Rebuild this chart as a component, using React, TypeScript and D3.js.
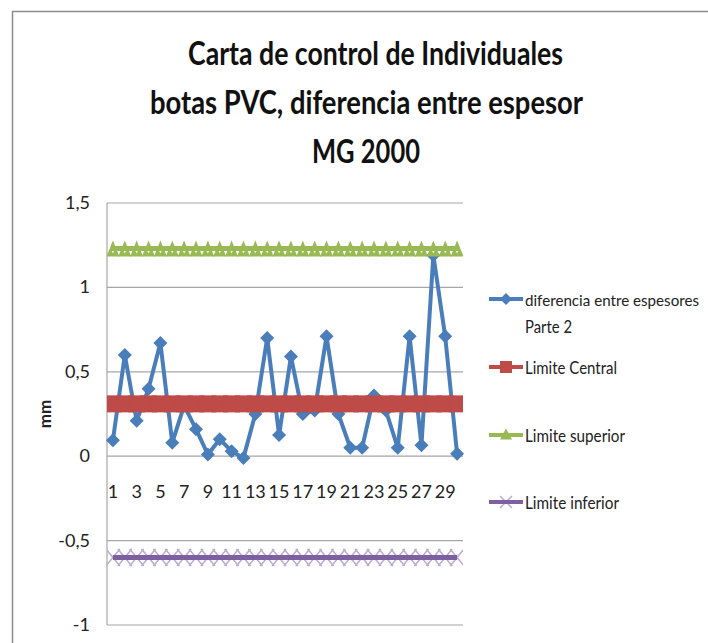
import React from "react";
import * as d3 from "d3";

const categories = [1,2,3,4,5,6,7,8,9,10,11,12,13,14,15,16,17,18,19,20,21,22,23,24,25,26,27,28,29,30];
const diferencia = [0.095,0.60,0.21,0.40,0.67,0.08,0.30,0.16,0.01,0.10,0.03,-0.01,0.25,0.70,0.125,0.59,0.25,0.27,0.71,0.25,0.05,0.05,0.36,0.27,0.05,0.71,0.065,1.19,0.71,0.015];
const limiteCentral = [0.31,0.31,0.31,0.31,0.31,0.31,0.31,0.31,0.31,0.31,0.31,0.31,0.31,0.31,0.31,0.31,0.31,0.31,0.31,0.31,0.31,0.31,0.31,0.31,0.31,0.31,0.31,0.31,0.31,0.31];
const limiteSuperior = [1.23,1.23,1.23,1.23,1.23,1.23,1.23,1.23,1.23,1.23,1.23,1.23,1.23,1.23,1.23,1.23,1.23,1.23,1.23,1.23,1.23,1.23,1.23,1.23,1.23,1.23,1.23,1.23,1.23,1.23];
const limiteInferior = [-0.6,-0.6,-0.6,-0.6,-0.6,-0.6,-0.6,-0.6,-0.6,-0.6,-0.6,-0.6,-0.6,-0.6,-0.6,-0.6,-0.6,-0.6,-0.6,-0.6,-0.6,-0.6,-0.6,-0.6,-0.6,-0.6,-0.6,-0.6,-0.6,-0.6];
const yTicks = [1.5, 1, 0.5, 0, -0.5, -1];
const xTickLabels = [1,3,5,7,9,11,13,15,17,19,21,23,25,27,29];
const titleLines = ["Carta de control de Individuales", "botas PVC, diferencia entre espesor", "MG 2000"];
const legendLabels = ["diferencia entre espesores", "Parte 2", "Limite Central", "Limite superior", "Limite inferior"];

const BLUE = "#4a7ebb";
const RED = "#be4b48";
const GREEN = "#98b954";
const PURPLE = "#7d60a0";
const LAVENDER = "#b9acd0";
const FONT = "Lato, 'Open Sans', sans-serif";

export default function App() {
  const left = 107, right = 463, top = 203, bottom = 625;
  const x = d3.scaleBand<number>().domain(categories).range([left, right]);
  const cx = (c: number) => (x(c) as number) + x.bandwidth() / 2;
  const y = d3.scaleLinear().domain([-1, 1.5]).range([bottom, top]);
  const line = d3.line<number>().x((_, i) => cx(categories[i])).y((v) => y(v));

  const fmt = (v: number) => String(v).replace(".", ",");

  const diamond = (px: number, py: number, r: number) =>
    `M${px},${py - r}L${px + r},${py}L${px},${py + r}L${px - r},${py}Z`;
  const tri = (px: number, py: number, w: number, h: number) =>
    `M${px},${py - h / 2}L${px + w / 2},${py + h / 2}L${px - w / 2},${py + h / 2}Z`;

  const titleX = [188, 150, 312];
  const titleW = [375, 433, 108];
  const titleY = [65, 114, 163];

  return (
    <svg width={708} height={643} style={{ position: "absolute", left: 0, top: 0, background: "#fff" }} fontFamily={FONT}>
      <defs>
        <clipPath id="plotClip">
          <rect x={left} y={top - 10} width={right - left} height={bottom - top + 20} />
        </clipPath>
      </defs>
      {/* frame */}
      <path d={`M12.5,643V11.5H708`} fill="none" stroke="#8c8c8c" strokeWidth={1.5} />

      {/* title */}
      {titleLines.map((t, i) => (
        <text key={i} x={titleX[i]} y={titleY[i]} fontSize={33} fontWeight={700} fill="#111"
          textLength={titleW[i]} lengthAdjust="spacingAndGlyphs">{t}</text>
      ))}

      {/* gridlines */}
      {yTicks.map((t) => (
        <line key={t} x1={left} x2={right} y1={y(t)} y2={y(t)} stroke="#a6a6a6" strokeWidth={1.2} />
      ))}
      <line x1={left} x2={left} y1={top} y2={bottom} stroke="#a6a6a6" strokeWidth={1.2} />

      {/* y tick labels */}
      {yTicks.map((t) => (
        <text key={t} x={90} y={y(t) + 6} fontSize={18} textAnchor="end" fill="#222">{fmt(t)}</text>
      ))}
      {/* x tick labels */}
      {xTickLabels.map((c) => (
        <text key={c} x={cx(c)} y={498} fontSize={18} textAnchor="middle" fill="#222">{c}</text>
      ))}
      {/* y axis title */}
      <text transform="translate(51,414) rotate(-90)" fontSize={17} fontWeight={700} textAnchor="middle" fill="#222">mm</text>

      {/* data series */}
      <path d={line(diferencia) || ""} fill="none" stroke={BLUE} strokeWidth={4} strokeLinejoin="round" />
      {diferencia.map((v, i) => (
        <path key={i} d={diamond(cx(categories[i]), y(v), 7)} fill={BLUE} />
      ))}

      <g clipPath="url(#plotClip)">
        <path d={line(limiteCentral) || ""} fill="none" stroke={RED} strokeWidth={5} />
        {limiteCentral.map((v, i) => (
          <rect key={i} x={cx(categories[i]) - 8.5} y={y(v) - 8.5} width={17} height={17} fill={RED} />
        ))}

        <path d={line(limiteSuperior) || ""} fill="none" stroke={GREEN} strokeWidth={5} />
        {limiteSuperior.map((v, i) => (
          <path key={i} d={tri(cx(categories[i]), y(v), 13, 16)} fill={GREEN} />
        ))}
        {limiteSuperior.map((v, i) => (
          <path key={"w" + i} d={`M${cx(categories[i]) - 1.3},${y(v) + 2.5}L${cx(categories[i]) + 1.3},${y(v) + 2.5}L${cx(categories[i])},${y(v) + 5}Z`} fill="#fff" opacity={0.85} />
        ))}

        {limiteInferior.map((v, i) => {
          const px = cx(categories[i]);
          const py = y(v);
          return (
            <path key={i} d={`M${px - 7},${py - 8.5}L${px + 7},${py + 8.5}M${px + 7},${py - 8.5}L${px - 7},${py + 8.5}`}
              stroke={LAVENDER} strokeWidth={1.5} fill="none" />
          );
        })}
        <path d={line(limiteInferior) || ""} fill="none" stroke={PURPLE} strokeWidth={5} />
      </g>

      {/* legend */}
      <g>
        <line x1={489} x2={523} y1={299} y2={299} stroke={BLUE} strokeWidth={4} />
        <path d={diamond(506, 299, 6)} fill={BLUE} />
        <text x={525} y={306} fontSize={16} fill="#222" textLength={174} lengthAdjust="spacingAndGlyphs">{legendLabels[0]}</text>
        <text x={525} y={333} fontSize={17} fill="#222" textLength={47} lengthAdjust="spacingAndGlyphs">{legendLabels[1]}</text>

        <line x1={489} x2={523} y1={367} y2={367} stroke={RED} strokeWidth={4} />
        <rect x={500} y={361} width={12} height={12} fill={RED} />
        <text x={525} y={374} fontSize={17} fill="#222" textLength={92} lengthAdjust="spacingAndGlyphs">{legendLabels[2]}</text>

        <line x1={489} x2={523} y1={435} y2={435} stroke={GREEN} strokeWidth={4} />
        <path d={tri(506, 434, 12, 11)} fill={GREEN} />
        <text x={525} y={442} fontSize={17} fill="#222" textLength={100} lengthAdjust="spacingAndGlyphs">{legendLabels[3]}</text>

        <path d={`M500,496L512,508M512,496L500,508`} stroke={LAVENDER} strokeWidth={1.5} />
        <line x1={489} x2={523} y1={502} y2={502} stroke={PURPLE} strokeWidth={4} />
        <text x={525} y={509} fontSize={17} fill="#222" textLength={94} lengthAdjust="spacingAndGlyphs">{legendLabels[4]}</text>
      </g>
    </svg>
  );
}
